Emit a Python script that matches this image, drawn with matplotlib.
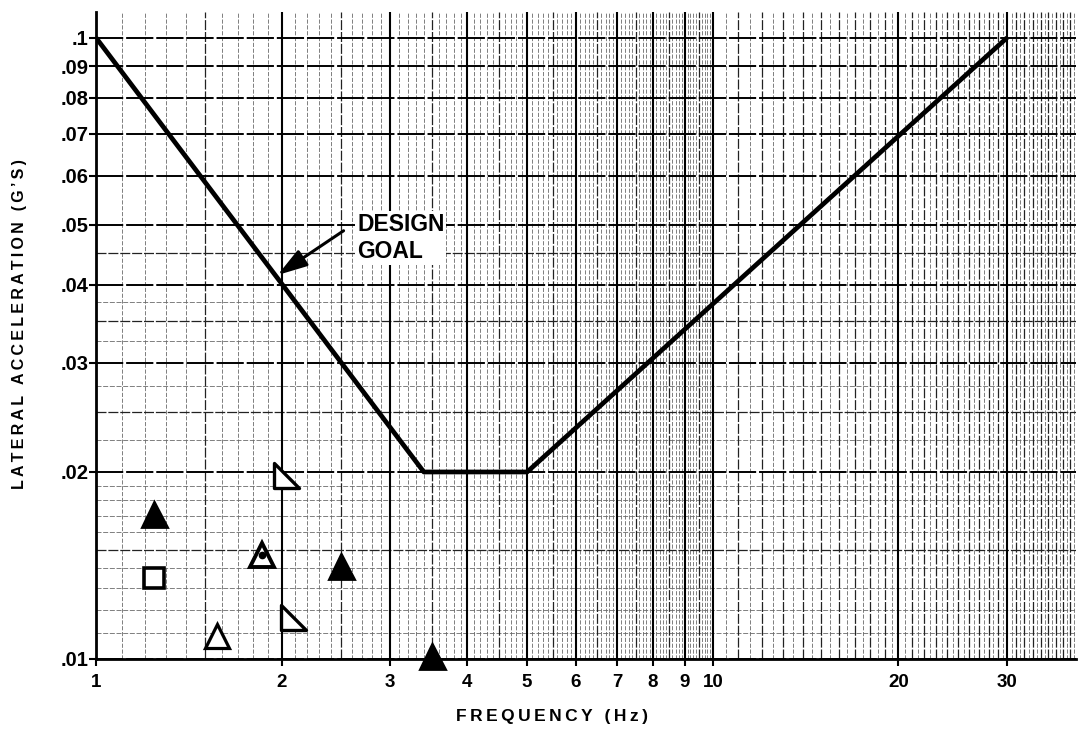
import numpy as np
import matplotlib
matplotlib.use("Agg")
import matplotlib.pyplot as plt
from matplotlib.path import Path

# ---------------- data ----------------
goal_freq = [1.0, 3.4, 5.0, 30.0]
goal_acc = [0.1, 0.02, 0.02, 0.1]

solid_tri_freq = [1.24, 2.5, 3.5]
solid_tri_acc = [0.0171, 0.0141, 0.0101]
open_tri_freq = [1.57]
open_tri_acc = [0.0109]
dot_tri_freq = [1.86]
dot_tri_acc = [0.0147]
square_freq = [1.24]
square_acc = [0.0135]
right_tri_freq = [2.03, 2.09]
right_tri_acc = [0.0198, 0.0117]

x_tick_vals = [1, 2, 3, 4, 5, 6, 7, 8, 9, 10, 20, 30]
x_tick_labels = ["1", "2", "3", "4", "5", "6", "7", "8", "9", "10", "20", "30"]
y_tick_vals = [0.01, 0.02, 0.03, 0.04, 0.05, 0.06, 0.07, 0.08, 0.09, 0.1]
y_tick_labels = [".01", ".02", ".03", ".04", ".05", ".06", ".07", ".08", ".09", ".1"]

annot_text = "DESIGN\nGOAL"
x_label = "FREQUENCY (Hz)"
y_label = "LATERAL ACCELERATION (G\u2019S)"

# ---------------- style ----------------
FONT = ["Liberation Sans", "DejaVu Sans"]
plt.rcParams["font.family"] = FONT


def spaced(s):
    return "\u2009".join(list(s))


fig = plt.figure(figsize=(10.78, 7.29), dpi=100)
ax = fig.add_axes([96 / 1078, 70 / 729, (1076 - 96) / 1078, (659 - 12) / 729])
ax.set_xscale("log")
ax.set_yscale("log")
ax.set_xlim(1, 38.8)
ax.set_ylim(0.01, 0.110)

# ----- chart-paper grid -----
xmax = 38.8
fine_x = [v for v in np.round(np.arange(1.0, 10.0, 0.1), 2)
          if abs(v - round(v)) > 1e-6 and abs(v * 2 - round(v * 2)) > 1e-6]
fine_x += [v for v in np.arange(10.5, xmax, 1.0)]
for v in fine_x:
    ax.axvline(v, color="#6a6a6a", lw=0.6, ls=(0, (5, 2)), zorder=0)
med_x = list(np.arange(1.5, 10, 1.0)) + [v for v in range(11, 39) if v % 10 != 0]
for v in med_x:
    ax.axvline(v, color="#222222", lw=0.9, ls=(0, (8, 1.5)), zorder=0.5)
maj_x = list(range(1, 11)) + [20, 30]
for v in maj_x:
    ax.axvline(v, color="black", lw=1.5, zorder=0.6)

fine_y = [v for v in np.round(np.arange(0.011, 0.0200, 0.001), 4) if abs(v - 0.015) > 1e-6]
fine_y += [0.0225, 0.0275, 0.0325, 0.0375]
for v in fine_y:
    ax.axhline(v, color="#6a6a6a", lw=0.6, ls=(0, (6, 2)), zorder=0)
for v in [0.015, 0.025, 0.035, 0.045]:
    ax.axhline(v, color="#222222", lw=0.9, ls=(0, (8, 1.5)), zorder=0.5)
for v in y_tick_vals:
    ax.axhline(v, color="black", lw=1.4, ls=(0, (14, 1.5)), zorder=0.6)

# ----- design goal curve -----
ax.plot(goal_freq, goal_acc, color="black", lw=3.4, solid_capstyle="butt", zorder=3)

# ----- data markers -----
right_tri = Path([(-1, 1), (-1, -1), (1, -1), (-1, 1)], closed=True)
mk = dict(linestyle="none", clip_on=False, zorder=4)
ax.plot(solid_tri_freq, solid_tri_acc, marker="^", ms=18, mfc="black", mec="black", mew=2, **mk)
ax.plot(open_tri_freq, open_tri_acc, marker="^", ms=17, mfc="white", mec="black", mew=2.3, **mk)
ax.plot(dot_tri_freq, dot_tri_acc, marker="^", ms=17, mfc="white", mec="black", mew=2.8, **mk)
ax.plot(dot_tri_freq, dot_tri_acc, marker="o", ms=4.5, mfc="black", mec="black", **mk)
ax.plot(square_freq, square_acc, marker="s", ms=14, mfc="white", mec="black", mew=2.6, **mk)
ax.plot(right_tri_freq, right_tri_acc, marker=right_tri, ms=18, mfc="white", mec="black", mew=2.4, **mk)

# ----- annotation -----
ax.annotate("", xy=(1.97, 0.0415), xytext=(2.52, 0.0489),
            arrowprops=dict(arrowstyle="-|>,head_length=0.9,head_width=0.28",
                            color="black", lw=2.2, mutation_scale=20, shrinkA=0, shrinkB=0),
            zorder=5)
ax.text(2.65, 0.0476, annot_text, ha="left", va="center", fontsize=16.5, fontweight="bold",
        linespacing=1.25, zorder=5,
        bbox=dict(facecolor="white", edgecolor="none", pad=1.5))

# ----- axes, ticks -----
for s in ["top", "right"]:
    ax.spines[s].set_visible(False)
for s in ["left", "bottom"]:
    ax.spines[s].set_linewidth(2.0)
    ax.spines[s].set_color("black")
    ax.spines[s].set_zorder(2)

ax.set_xticks(x_tick_vals)
ax.set_xticklabels(x_tick_labels)
ax.set_yticks(y_tick_vals)
ax.set_yticklabels(y_tick_labels)
ax.minorticks_off()
ax.tick_params(axis="x", which="major", length=5, width=1.5, pad=6, labelsize=13.5, direction="out")
ax.tick_params(axis="y", which="major", length=5, width=1.5, pad=0.5, labelsize=14.5, direction="out")
for lab in ax.get_xticklabels() + ax.get_yticklabels():
    lab.set_fontweight("bold")

fig.text(552 / 1078, 1 - 717 / 729, spaced(x_label), ha="center", va="center",
         fontsize=12.5, fontweight="bold")
fig.text(20 / 1078, 1 - 324 / 729, spaced(y_label), ha="center", va="center",
         rotation=90, fontsize=11.5, fontweight="bold")

fig.savefig("out.png", dpi=100, facecolor="white")
